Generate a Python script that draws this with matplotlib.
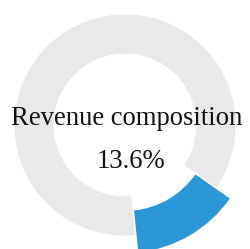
import matplotlib
matplotlib.use('Agg')
import matplotlib.pyplot as plt

# data
labels = ['Revenue composition', 'Other']
shares = [13.6, 86.4]
title = 'Revenue composition'
pct_text = '13.6%'

blue = '#2b97d7'
grey = '#e8e8eb'

fig = plt.figure(figsize=(2.51, 2.49), dpi=100)
ax = fig.add_axes([0, 0, 1, 1])

cx, cy = 125, 124
# grey ring (the rest)
ax.pie(shares, colors=['none', grey], startangle=-84, counterclock=True,
       radius=112, center=(cx, cy),
       wedgeprops=dict(width=112 - 70, edgecolor='white', linewidth=2))
# highlighted slice, pushed outwards
ax.pie(shares, colors=[blue, 'none'], startangle=-84, counterclock=True,
       radius=128, center=(cx, cy),
       wedgeprops=dict(width=128 - 86, edgecolor='none', linewidth=0))

ax.set_xlim(0, 251)
ax.set_ylim(0, 249)
ax.set_aspect('equal')
ax.axis('off')

ax.text(126.5, 131, title, ha='center', va='center', fontsize=19.2,
        family='Liberation Serif', color='#111111')
ax.text(131, 88, pct_text, ha='center', va='center', fontsize=19.2,
        family='Liberation Serif', color='#111111')

fig.savefig('out.png', dpi=100, facecolor='white')
